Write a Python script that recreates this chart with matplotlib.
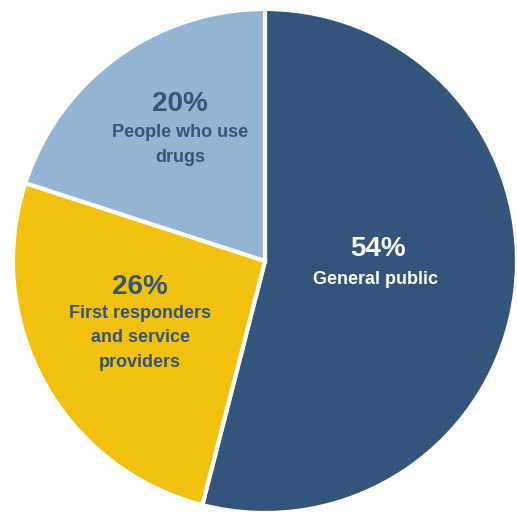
import matplotlib.pyplot as plt

# Share of audience groups
groups = ["General public", "First responders\nand service\nproviders", "People who use\ndrugs"]
shares = [54, 26, 20]
colors = ["#33557B", "#F2C10E", "#95B3D2"]
text_colors = ["white", "#33557B", "#33557B"]

plt.rcParams["font.family"] = ["Liberation Sans", "DejaVu Sans"]

fig = plt.figure(figsize=(5.17, 5.15), dpi=100)
ax = fig.add_axes([0, 0, 1, 1])

ax.pie(shares, colors=colors, startangle=90, counterclock=False,
       wedgeprops=dict(edgecolor="white", linewidth=3))

# pixel -> data helper (pie radius is 252 px, centre at 265, 261)
def px(x, y):
    return (x - 265) / 252.0, (261 - y) / 252.0

ax.set_xlim(-265 / 252.0, (517 - 265) / 252.0)
ax.set_ylim(-(515 - 261) / 252.0, 261 / 252.0)
ax.set_aspect("auto")
ax.axis("off")

pct_pos = [px(378, 249), px(140, 287), px(180, 104)]
lab_pos = [px(375, 279), px(140, 338), px(180, 145)]
for i in range(len(shares)):
    ax.text(*pct_pos[i], f"{shares[i]}%", ha="center", va="center",
            fontsize=20, fontweight="bold", color=text_colors[i])
    ax.text(*lab_pos[i], groups[i], ha="center", va="center",
            fontsize=13, fontweight="bold", color=text_colors[i],
            linespacing=1.55)

fig.savefig("out.png", dpi=100)
